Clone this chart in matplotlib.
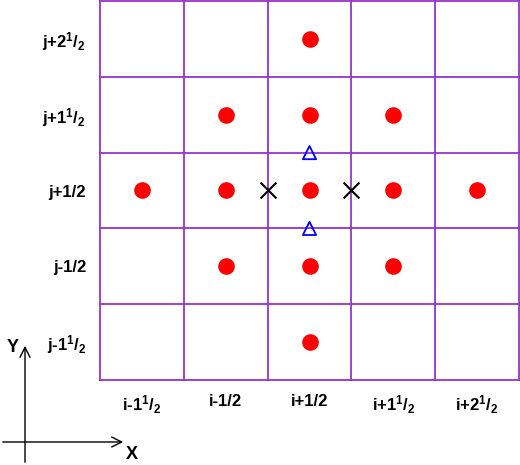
import matplotlib
matplotlib.use("Agg")
import matplotlib.pyplot as plt

plt.rcParams['font.family'] = ['Liberation Sans', 'DejaVu Sans']
plt.rcParams['mathtext.fontset'] = 'custom'
plt.rcParams['mathtext.bf'] = 'Liberation Sans:bold'
plt.rcParams['mathtext.rm'] = 'Liberation Sans:bold'

x_labels = [r'i-1$\mathbf{^{1}}$/$\mathbf{_{2}}$', 'i-1/2', 'i+1/2', r'i+1$\mathbf{^{1}}$/$\mathbf{_{2}}$', r'i+2$\mathbf{^{1}}$/$\mathbf{_{2}}$']
y_labels = [r'j-1$\mathbf{^{1}}$/$\mathbf{_{2}}$', 'j-1/2', 'j+1/2', r'j+1$\mathbf{^{1}}$/$\mathbf{_{2}}$', r'j+2$\mathbf{^{1}}$/$\mathbf{_{2}}$']
dots_x = [2, 2, 2, 2, 2, 0, 1, 3, 4, 1, 3, 1, 3]
dots_y = [0, 1, 2, 3, 4, 2, 2, 2, 2, 1, 1, 3, 3]
cross_x = [2.0, 3.0]
cross_y = [2.5, 2.5]
tri_x = [2.5, 2.5]
tri_y = [2.0, 3.0]

W, H = 520, 465
fig = plt.figure(figsize=(5.2, 4.65), dpi=100)
ax = fig.add_axes([100/W, (H-380)/H, 419/W, 379/H])
ax.set_xlim(0, 5); ax.set_ylim(0, 5)
purple = '#9933cc'
for k in range(6):
    ax.axvline(k, color=purple, lw=1.3, clip_on=False)
    ax.axhline(k, color=purple, lw=1.3, clip_on=False)
for s in ax.spines.values():
    s.set_visible(False)
ax.set_xticks([k + 0.5 for k in range(5)])
ax.set_xticklabels(x_labels, fontsize=12, fontweight='bold')
ax.set_yticks([k + 0.5 for k in range(5)])
ax.set_yticklabels(y_labels, fontsize=12, fontweight='bold')
ax.tick_params(length=0, pad=10)
ax.scatter([x + 0.5 for x in dots_x], [y + 0.5 for y in dots_y], s=120, color='red', zorder=3)
ax.scatter(cross_x, cross_y, marker='x', s=130, color='black', linewidths=1.5, zorder=3)
ax.scatter(tri_x, tri_y, marker='^', s=90, facecolors='none', edgecolors='blue', linewidths=1.3, zorder=3)

ax2 = fig.add_axes([0, 0, 1, 1]); ax2.set_xlim(0, W); ax2.set_ylim(H, 0); ax2.axis('off')
ax2.annotate('', xy=(126, 442), xytext=(0, 442), arrowprops=dict(arrowstyle='->', lw=1, color='black', mutation_scale=18))
ax2.annotate('', xy=(25, 343), xytext=(25, 465), arrowprops=dict(arrowstyle='->', lw=1, color='black', mutation_scale=18))
ax2.text(132, 454, 'X', fontsize=13, fontweight='bold', ha='center', va='center')
ax2.text(13, 347, 'Y', fontsize=13, fontweight='bold', ha='center', va='center')
fig.savefig('out.png', dpi=100)
